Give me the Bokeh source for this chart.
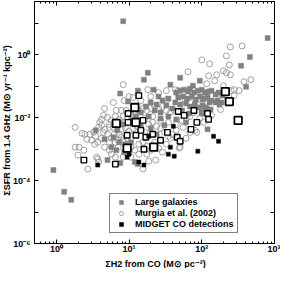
import math
from bokeh.plotting import figure
from bokeh.models import (Range1d, LogAxis, FixedTicker, CustomJSTickFormatter,
                          Legend, LegendItem, Title)
from bokeh.embed import file_html
from bokeh.resources import INLINE

# ---------------- data ----------------
large_x = [8.3, 804, 459, 347, 406, 93.9, 120, 18.1, 16.0, 50.4,
           37.0, 75.5, 21.8, 13.2, 7.55, 9.69, 3.47, 5.04, 0.91, 1.28,
           1.6, 7.55, 12.0, 13.2, 44.5, 50.4, 57.1, 64.7, 68.8, 77.9,
           88.2, 100, 110, 124, 136, 155, 170, 192, 47.4, 55.4,
           62.7, 73.2, 82.9, 93.9, 106, 120, 136, 155, 175, 43.2,
           50.4, 60.8, 68.8, 80.4, 91.0, 103, 117, 132, 34.7, 28.8,
           25.4, 32.6, 39.3, 53.7, 66.7, 100, 23.9, 19.8, 22.5, 27.1,
           17.0, 14.5, 18.6, 27.1, 34.7, 44.5, 12.4, 10.6, 8.3, 6.88,
           6.08, 7.32, 8.83, 5.71, 8.56, 10.6, 14.5, 19.8, 23.9, 30.6,
           60.8, 4.59, 6.67, 117, 103, 128, 164, 186, 110, 100]
large_y = [11.8, 3.44, 0.865, 0.45, 0.0977, 0.151, 0.00428, 0.27, 0.162, 0.188,
           0.113, 0.105, 0.0785, 0.073, 0.0587, 0.0328, 0.00398, 0.00045, 0.000217, 4.4e-5,
           2.45e-5, 0.000362, 0.000389, 0.000336, 0.0631, 0.073, 0.0785, 0.0679, 0.0844, 0.0631,
           0.073, 0.0785, 0.0631, 0.0679, 0.073, 0.0546, 0.0631, 0.0507, 0.0439, 0.0472,
           0.0408, 0.0472, 0.0379, 0.0472, 0.0408, 0.0439, 0.0353, 0.0305, 0.0264, 0.0305,
           0.0264, 0.0284, 0.0228, 0.0264, 0.0212, 0.0245, 0.0197, 0.0183, 0.0408, 0.0353,
           0.0472, 0.0245, 0.0197, 0.0171, 0.0137, 0.0137, 0.0264, 0.0305, 0.0171, 0.0147,
           0.0228, 0.0147, 0.0110, 0.00953, 0.0110, 0.00887, 0.0110, 0.00824, 0.00616, 0.00398,
           0.00239, 0.00166, 0.00144, 0.00116, 0.000805, 0.00166, 0.00533, 0.00461, 0.00298, 0.00573,
           0.00713, 0.00207, 0.00093, 0.0631, 0.0379, 0.0305, 0.0353, 0.0305, 0.0212, 0.0147]

murgia_x = [247, 358, 218, 239, 128, 100, 124, 160, 150, 117,
            198, 218, 247, 198, 254, 279, 326, 381, 474, 279,
            181, 136, 64.7, 43.2, 47.4, 18.1, 10.0, 11.3, 33.7, 8.3,
            6.08, 8.56, 4.59, 6.67, 7.79, 9.10, 4.45, 4.19, 3.93, 1.81,
            2.25, 2.47, 2.88, 3.26, 3.81, 4.19, 4.59, 5.37, 2.62, 3.06,
            3.37, 1.81, 2.05, 2.39, 1.98, 2.71, 3.58, 3.81, 4.59, 5.37,
            5.71, 6.27, 7.10, 7.79, 7.10, 80.4, 85.5, 50.4, 23.2, 15.5,
            55.4, 18.6, 48.9, 3.70, 5.04, 5.71, 6.47, 7.32, 8.30, 9.40,
            10.6, 12.0, 13.6, 15.5, 17.5, 19.8, 22.5, 25.4, 28.8, 32.6,
            37.0, 41.8, 5.37, 6.08, 6.88, 7.79, 8.83, 10.0, 11.3, 12.8,
            14.5, 16.4, 18.6, 21.1, 23.9, 27.1, 30.6, 34.7, 39.3, 44.5,
            5.04, 5.71, 6.47, 8.30, 9.40, 10.6, 12.0, 13.6, 15.5, 17.5,
            19.8, 22.5, 25.4, 28.8, 32.6, 37.0, 5.37, 4.19, 3.70, 3.47,
            4.45, 7.32, 8.83, 12.8, 16.4, 21.1, 27.1, 34.7, 44.5, 53.7,
            60.8, 68.8, 77.9, 93.9, 106, 68.8, 60.8, 10.6, 8.30, 13.6,
            17.5, 6.47, 14.5, 19.8, 25.4, 32.6, 58.9, 68.8, 88.2, 113]
murgia_y = [1.79, 1.92, 0.93, 0.483, 0.52, 0.695, 0.217, 0.233, 0.151, 0.121,
            0.313, 0.27, 0.233, 0.105, 0.073, 0.0785, 0.073, 0.14, 0.162, 0.0507,
            0.0183, 0.0119, 0.29, 0.0785, 0.073, 0.0785, 0.0472, 0.0439, 0.0379, 0.113,
            0.0305, 0.0353, 0.0197, 0.0171, 0.0171, 0.0171, 0.0119, 0.00887, 0.00713, 0.00496,
            0.0032, 0.00298, 0.00298, 0.00344, 0.00496, 0.00573, 0.00428, 0.00496, 0.00207, 0.00192,
            0.00144, 0.00116, 0.00116, 0.00093, 0.000647, 0.000234, 0.000559, 0.000389, 0.00116, 0.00093,
            0.000695, 0.00298, 0.00192, 0.00239, 0.00116, 0.00398, 0.00344, 0.00116, 0.00045, 0.000234,
            0.00496, 0.000418, 0.00108, 0.000484, 0.0103, 0.00824, 0.0110, 0.00887, 0.0110, 0.00953,
            0.0127, 0.0147, 0.0171, 0.0197, 0.0171, 0.0197, 0.0228, 0.0197, 0.0228, 0.0171,
            0.0147, 0.0171, 0.00616, 0.00496, 0.00573, 0.00428, 0.00496, 0.0037, 0.00461, 0.00533,
            0.00398, 0.00344, 0.00616, 0.00713, 0.00533, 0.00461, 0.00344, 0.00257, 0.00298, 0.00398,
            0.00298, 0.00223, 0.00166, 0.00192, 0.00223, 0.00116, 0.00093, 0.00144, 0.00166, 0.00124,
            0.00093, 0.00166, 0.00108, 0.000805, 0.00144, 0.00223, 0.00166, 0.00223, 0.00166, 0.00257,
            0.00344, 0.00298, 0.00713, 0.00824, 0.00953, 0.0110, 0.00824, 0.00713, 0.00616, 0.00824,
            0.00953, 0.0110, 0.0147, 0.00953, 0.00713, 0.00344, 0.00223, 0.000559, 0.000559, 0.000695,
            0.000695, 0.000559, 0.0353, 0.0472, 0.0631, 0.073, 0.0353, 0.0305, 0.0264, 0.0305]

midget_big_x = [211, 239, 316, 12.0, 6.67, 9.40, 21.8, 12.4]
midget_big_y = [0.0679, 0.0328, 0.00824, 0.0212, 0.00663, 0.00108, 0.00116, 0.00713]

midget_open_x = [13.6, 9.69, 15.5, 9.69, 14.5, 12.4, 17.0, 21.1, 27.1, 16.0,
                 33.7, 47.4, 57.1, 77.9, 85.5, 71.0, 45.9, 50.4, 120, 124,
                 2.39, 6.47, 9.40]
midget_open_y = [0.0507, 0.0137, 0.00824, 0.00713, 0.00398, 0.00277, 0.00239, 0.00298, 0.00192, 0.001,
                 0.00344, 0.0158, 0.0119, 0.0171, 0.00713, 0.00428, 0.00239, 0.00179, 0.0137, 0.00887,
                 0.00045, 0.000336, 0.00277]

midget_x = [145, 170, 88.2, 37.0, 34.7, 41.8, 13.6, 16.0, 3.70, 40.6,
            10.0, 18.6, 9.40]
midget_y = [0.00257, 0.00179, 0.000865, 0.00116, 0.000695, 0.000601, 0.000389, 0.000313, 0.000313, 0.00533,
            0.000695, 0.00257, 0.000559]

x_major = [1, 10, 100, 1000]
x_minor = [0.6, 0.7, 0.8, 0.9, 2, 3, 4, 5, 6, 7, 8, 9,
           20, 30, 40, 50, 60, 70, 80, 90, 200, 300, 400, 500, 600, 700, 800, 900]
y_major = [1e-6, 1e-5, 1e-4, 1e-3, 1e-2, 1e-1, 1, 10]

legend_labels = ["Large galaxies", "Murgia et al. (2002)", "MIDGET CO detections"]
x_label = "ΣH2 from CO (M⊙ pc⁻²)"
y_label = "ΣSFR from 1.4 GHz (M⊙ yr⁻¹ kpc⁻²)"

# ---------------- figure ----------------
FONT = "Liberation Sans"
p = figure(width=280, height=268, x_axis_type="log", y_axis_type="log",
           x_range=Range1d(0.5, 1000), y_range=Range1d(1e-6, 50),
           output_backend="svg", toolbar_location=None,
           min_border_left=34, min_border_right=6, min_border_top=1, min_border_bottom=16)
p.xgrid.visible = False
p.ygrid.visible = False
p.outline_line_color = "black"
p.outline_line_width = 1
p.background_fill_color = "white"

sup_js = """
const sup = {"-":"\u207b","0":"\u2070","1":"\u00b9","2":"\u00b2","3":"\u00b3","4":"\u2074",
             "5":"\u2075","6":"\u2076","7":"\u2077","8":"\u2078","9":"\u2079"};
const e = Math.round(Math.log10(tick));
"""
fmt_x = CustomJSTickFormatter(code=sup_js + 'return "10" + String(e).split("").map(c => sup[c]).join("");')
fmt_y = CustomJSTickFormatter(code=sup_js + 'if (e % 2 != 0) { return ""; } return "10" + String(e).split("").map(c => sup[c]).join("");')
fmt_blank = CustomJSTickFormatter(code='return "";')

def style_axis(ax):
    ax.major_tick_in = 4
    ax.major_tick_out = 0
    ax.minor_tick_in = 2
    ax.minor_tick_out = 0
    ax.axis_line_color = "black"
    ax.axis_line_width = 1
    ax.major_tick_line_color = "black"
    ax.minor_tick_line_color = "black"
    ax.major_label_text_font = FONT
    ax.major_label_text_font_style = "bold"
    ax.major_label_text_font_size = "9px"
    ax.major_label_text_color = "black"
    ax.axis_label = None

xax = p.xaxis[0]
xax.ticker = FixedTicker(ticks=x_major, minor_ticks=x_minor)
xax.formatter = fmt_x
style_axis(xax)
xax.major_label_standoff = 0

yax = p.yaxis[0]
yax.ticker = FixedTicker(ticks=y_major, minor_ticks=[])
yax.formatter = fmt_y
style_axis(yax)
yax.major_label_standoff = 4

top = LogAxis(ticker=FixedTicker(ticks=x_major, minor_ticks=x_minor), formatter=fmt_blank)
style_axis(top)
top.major_label_text_font_size = "0px"
top.major_label_standoff = 0
p.add_layout(top, "above")

right = LogAxis(ticker=FixedTicker(ticks=y_major, minor_ticks=[]), formatter=fmt_blank)
style_axis(right)
right.major_label_text_font_size = "0px"
right.major_label_standoff = 0
p.add_layout(right, "right")

# axis titles as titles in the side panels
p.add_layout(Title(text=x_label, align="center", standoff=0, offset=0, text_font=FONT,
                   text_font_style="bold", text_font_size="9px", text_color="black"), "below")
p.add_layout(Title(text=y_label, align="center", standoff=-3, offset=0, text_font=FONT,
                   text_font_style="bold", text_font_size="9px", text_color="black"), "left")

# ---------------- glyphs ----------------
r_murgia = p.scatter(murgia_x, murgia_y, marker="circle", size=6, fill_color=None,
                     line_color="#959595", line_width=0.9)
r_large = p.scatter(large_x, large_y, marker="square", size=5, fill_color="#808080",
                    line_color="#808080", line_width=0.5)
p.scatter(midget_open_x, midget_open_y, marker="square", size=5.5, fill_color="white",
          line_color="black", line_width=1.4)
p.scatter(midget_big_x, midget_big_y, marker="square", size=7.5, fill_color="white",
          line_color="black", line_width=1.8)
r_midget = p.scatter(midget_x, midget_y, marker="square", size=4, fill_color="black",
                     line_color="black", line_width=0.5)

legend = Legend(items=[LegendItem(label=legend_labels[0], renderers=[r_large]),
                       LegendItem(label=legend_labels[1], renderers=[r_murgia]),
                       LegendItem(label=legend_labels[2], renderers=[r_midget])],
                location=(75, 10))
legend.border_line_color = "black"
legend.border_line_width = 1
legend.background_fill_color = "white"
legend.background_fill_alpha = 1
legend.label_text_font = FONT
legend.label_text_font_style = "bold"
legend.label_text_font_size = "9px"
legend.label_text_color = "black"
legend.glyph_width = 16
legend.glyph_height = 10
legend.label_height = 10
legend.label_standoff = 6
legend.spacing = 1
legend.padding = 3
legend.margin = 0
p.add_layout(legend, "center")

open("out.html", "w").write(file_html(p, INLINE))
